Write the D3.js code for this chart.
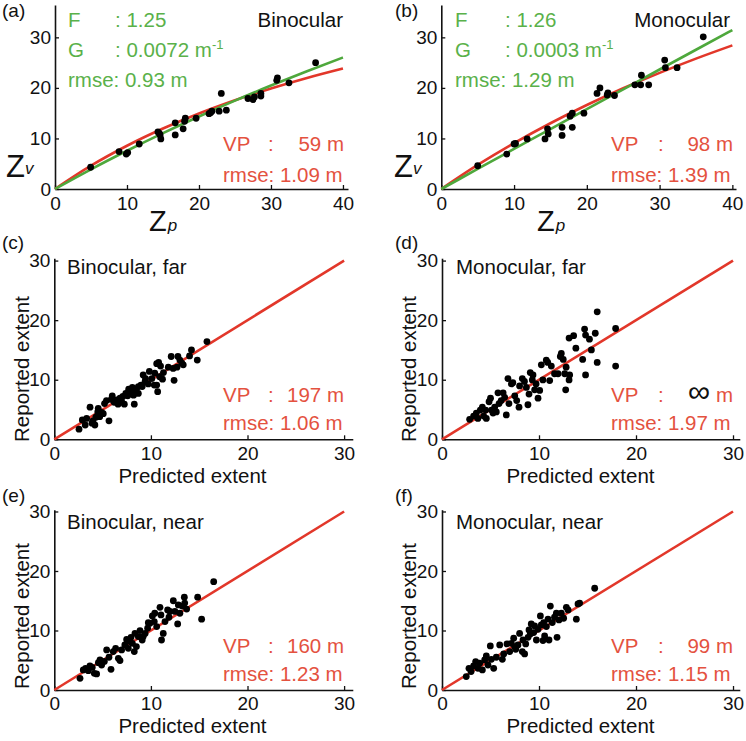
<!DOCTYPE html>
<html><head><meta charset="utf-8">
<script src="https://cdn.jsdelivr.net/npm/d3@7"></script>
<style>
body{margin:0;background:#fff}
svg{display:block}
text{font-family:"Liberation Sans",Arial,Helvetica,sans-serif}
</style>
</head><body>
<svg id="chart" width="746" height="741"></svg>
<script>
// ---------- DATA ----------
const zpGrid      = [0, 5, 10, 15, 20, 25, 30, 35, 40];
const redCurveA   = [0, 4.61, 8.55, 11.96, 14.94, 17.56, 19.89, 21.97, 23.84];
const greenCurveA = [0, 3.89, 7.56, 11.05, 14.35, 17.48, 20.46, 23.30, 26.01];
const redCurveB   = [0, 4.76, 9.07, 13.01, 16.61, 19.92, 22.97, 25.79, 28.41];
const greenCurveB = [0, 3.96, 7.92, 11.86, 15.80, 19.72, 23.64, 27.55, 31.45];
const identityLine = [0, 30];
const ticks40 = [0, 10, 20, 30, 40];
const ticks30 = [0, 10, 20, 30];

const pointsA = [[4.95,4.3],[8.9,7.4],[9.9,6.9],[10.1,7.2],[11.7,8.9],[14.3,11.3],[14.5,11.0],[14.6,10.7],[14.7,9.9],
  [16.7,10.7],[16.7,13.1],[17.8,11.9],[18.0,13.4],[18.1,14.0],[19.6,14.0],[21.4,14.9],[21.6,15.1],[21.8,15.4],
  [22.8,15.4],[23.1,18.9],[23.8,15.6],[26.8,17.9],[27.5,17.7],[27.7,18.2],[28.6,18.4],[28.6,18.9],[30.8,21.5],
  [30.9,22.0],[32.5,21.0],[36.2,25.0]];
const pointsB = [[5.0,4.6],[9.0,6.9],[10.0,8.9],[10.2,9.0],[11.8,9.9],[14.25,9.9],[14.6,11.9],[14.7,10.9],[16.6,12.2],
  [16.6,10.6],[17.7,14.4],[18.0,15.0],[18.0,12.2],[19.6,15.0],[21.4,18.9],[21.8,20.0],[22.8,18.6],[22.9,19.0],
  [23.8,18.5],[26.6,20.6],[27.4,20.6],[27.5,22.5],[28.5,20.6],[30.7,25.5],[30.8,24.0],[32.4,24.0],[36.0,30.1]];
const pointsC = [[2.56,1.7],[2.9,3.25],[3.2,2.4],[3.35,3.5],[3.7,5.4],[3.9,2.7],[4.0,3.1],[4.2,2.4],[4.3,3.7],[4.5,4.6],
  [4.55,5.2],[4.7,3.8],[4.9,4.5],[5.07,4.3],[5.2,6.0],[5.4,6.5],[5.66,3.1],[5.9,6.7],[6.0,7.3],[6.2,6.2],[6.45,6.6],
  [6.6,5.9],[6.8,6.9],[6.97,6.3],[7.1,7.2],[7.25,5.9],[7.4,7.7],[7.6,7.3],[7.7,8.4],[7.94,7.8],[8.08,8.7],[8.2,7.4],
  [8.28,5.9],[8.35,8.0],[8.5,8.4],[8.7,7.7],[8.7,8.85],[8.97,9.1],[9.1,8.85],[9.2,10.8],[9.4,9.7],[9.45,10.2],
  [9.73,9.3],[9.84,11.4],[10.1,10.2],[10.35,9.1],[10.4,11.1],[10.6,9.1],[10.6,12.7],[10.7,8.0],[10.8,12.9],
  [10.9,10.5],[11.0,12.3],[11.2,10.1],[11.3,11.2],[11.8,12.1],[12.1,13.9],[12.3,11.9],[12.4,9.9],[12.7,12.1],
  [12.8,13.9],[13.0,13.3],[13.2,12.8],[13.35,12.5],[14.0,14.0],[14.2,15.0],[14.8,13.3],[15.8,16.4]];
const pointsD = [[2.85,3.35],[3.26,3.9],[3.54,4.4],[3.7,3.5],[3.95,4.9],[4.16,5.4],[4.3,3.9],[4.5,4.9],[4.57,3.5],
  [4.85,6.3],[5.0,6.9],[5.1,4.9],[5.26,4.4],[5.43,5.4],[5.6,4.6],[5.77,7.8],[5.88,6.0],[6.1,6.5],[6.3,7.8],
  [6.46,7.05],[6.63,4.1],[6.8,10.2],[6.9,6.0],[7.15,9.3],[7.3,9.5],[7.5,7.3],[7.7,6.5],[7.94,5.4],[8.0,8.96],
  [8.28,10.2],[8.5,9.7],[8.7,8.7],[8.86,5.8],[8.97,7.6],[9.1,11.2],[9.31,9.97],[9.38,10.8],[9.55,8.3],[9.7,9.3],
  [9.9,6.9],[10.07,8.2],[10.24,12.5],[10.4,9.97],[10.75,13.3],[10.9,12.9],[11.1,9.85],[11.27,12.3],[11.6,11.0],
  [11.96,11.0],[12.2,13.9],[12.3,14.4],[12.5,13.4],[12.65,11.0],[12.75,8.3],[12.8,12.1],[13.1,9.97],[13.16,10.8],
  [13.1,17.0],[13.57,17.4],[13.8,15.3],[14.5,13.4],[14.8,10.8],[14.7,18.5],[14.8,17.5],[15.2,16.8],[15.4,15.0],
  [15.8,17.8],[16.0,12.9],[16.0,21.4],[17.9,18.6],[17.9,12.3]];
const pointsE = [[2.66,1.96],[3.0,3.37],[3.24,3.65],[3.52,3.25],[3.69,4.04],[3.93,3.8],[4.14,2.8],[4.38,2.7],[4.56,4.6],
  [4.73,5.05],[4.9,4.2],[5.18,4.8],[5.42,6.73],[5.66,5.5],[5.87,3.48],[6.1,6.45],[6.35,7.0],[6.63,5.33],[6.8,4.94],
  [6.97,6.73],[7.3,7.57],[7.49,8.5],[7.66,7.0],[7.83,8.13],[7.94,8.86],[8.08,7.85],[8.28,6.45],[8.35,9.5],[8.5,7.3],
  [8.7,8.97],[8.87,9.99],[9.1,8.4],[9.2,8.97],[9.4,9.5],[9.66,10.38],[9.73,11.3],[9.9,11.2],[10.15,12.45],
  [10.35,11.5],[10.4,12.9],[10.6,10.66],[10.94,13.9],[11.04,12.62],[11.1,8.4],[11.28,9.5],[11.46,11.5],
  [11.73,13.46],[11.87,12.23],[11.97,13.2],[12.32,15.0],[12.49,13.2],[12.77,11.1],[12.84,14.3],[13.0,12.9],
  [13.25,14.1],[13.46,15.6],[13.5,14.6],[13.7,13.6],[14.84,15.6],[15.25,11.9],[16.5,18.2]];
const pointsF = [[2.5,2.25],[2.78,3.65],[3.0,3.1],[3.26,4.04],[3.47,4.77],[3.71,3.65],[3.88,4.5],[4.16,3.37],[4.4,5.05],
  [4.57,5.72],[4.74,4.2],[4.98,7.4],[5.09,5.16],[5.33,3.65],[5.6,5.5],[5.95,7.57],[6.22,5.16],[6.36,6.06],[6.7,7.74],
  [6.98,6.45],[7.15,7.85],[7.39,8.7],[7.49,7.29],[7.6,6.84],[7.83,7.57],[8.0,9.5],[8.28,6.45],[8.35,8.4],[8.52,6.06],
  [8.63,7.74],[8.87,8.86],[8.97,10.1],[9.1,9.4],[9.2,11.1],[9.45,9.65],[9.55,10.77],[9.73,8.4],[9.9,10.2],
  [10.14,12.45],[10.24,10.94],[10.41,8.3],[10.48,11.33],[10.58,9.09],[10.76,10.66],[10.93,11.9],[11.03,8.4],
  [11.17,14.1],[11.37,11.33],[11.6,12.23],[11.79,12.9],[11.86,8.86],[12.06,11.78],[12.3,12.9],[12.54,12.06],
  [12.82,13.9],[13.0,13.46],[13.85,11.9],[14.02,14.47],[14.19,14.6],[15.74,17.1]];

const panelLetters = ["(a)","(b)","(c)","(d)","(e)","(f)"];
const panelTitles  = ["Binocular","Monocular","Binocular, far","Monocular, far","Binocular, near","Monocular, near"];
const vpValues     = ["59 m","98 m","197 m","∞","160 m","99 m"];
const rmseRed      = ["1.09","1.39","1.06","1.97","1.23","1.15"];
const fValues      = ["1.25","1.26"];
const gValues      = ["0.0072","0.0003"];
const rmseGreen    = ["0.93","1.29"];

// ---------- STYLE / LAYOUT ----------
const RED_LINE = "#e2372a", RED_TEXT = "#e4523f";
const GREEN_LINE = "#4ea83c", GREEN_TEXT = "#5ab14a";
const svg = d3.select("#chart");

const layout = [
  {x0:55,   x1:348,   xmax:40.7, y0:189,   y1:5,     ymax:36.4, xt:ticks40, left:true,  row:0},
  {x0:441.3,x1:736,   xmax:40.5, y0:189,   y1:5,     ymax:36.4, xt:ticks40, left:false, row:0},
  {x0:54.3, x1:352.8, xmax:30.9, y0:439.3, y1:258.2, ymax:30.4, xt:ticks30, left:true,  row:1},
  {x0:442,  x1:739.8, xmax:30.7, y0:439.3, y1:258.2, ymax:30.4, xt:ticks30, left:false, row:1},
  {x0:54.3, x1:352.8, xmax:30.9, y0:690,   y1:509.7, ymax:30.3, xt:ticks30, left:true,  row:2},
  {x0:442,  x1:739.8, xmax:30.7, y0:690,   y1:509.7, ymax:30.3, xt:ticks30, left:false, row:2}
];
const allPoints = [pointsA, pointsB, pointsC, pointsD, pointsE, pointsF];

function txt(g, x, y, s, o={}) {
  return g.append("text").attr("x", x).attr("y", y)
    .attr("font-size", o.size || 20.5)
    .attr("fill", o.fill || "#111")
    .attr("text-anchor", o.anchor || "start")
    .text(s);
}

layout.forEach((L, i) => {
  const g = svg.append("g");
  const x = d3.scaleLinear().domain([0, L.xmax]).range([L.x0, L.x1]);
  const y = d3.scaleLinear().domain([0, L.ymax]).range([L.y0, L.y1]);

  // axes
  const ax = g.append("g").attr("transform", `translate(0,${L.y0})`)
    .call(d3.axisBottom(x).tickValues(L.xt).tickSize(-4).tickSizeOuter(0)
      .tickPadding(L.row === 0 ? 8 : 7).tickFormat(d3.format("d")));
  const ay = g.append("g").attr("transform", `translate(${L.x0},0)`)
    .call(d3.axisLeft(y).tickValues(ticks30).tickSize(-4).tickSizeOuter(0).tickPadding(4).tickFormat(d3.format("d")));
  [ax, ay].forEach(a => {
    a.select(".domain").attr("stroke", "#111").attr("stroke-width", 1.6);
    a.selectAll(".tick line").attr("stroke", "#111").attr("stroke-width", 1.3);
    a.selectAll(".tick text").attr("font-size", 19).attr("fill", "#111")
      .attr("font-family", '"Liberation Sans",Arial,sans-serif');
  });

  // fitted lines
  const line = d3.line().x(d => x(d[0])).y(d => y(d[1])).curve(d3.curveMonotoneX);
  if (i < 2) {
    const red = i === 0 ? redCurveA : redCurveB;
    const green = i === 0 ? greenCurveA : greenCurveB;
    g.append("path").datum(zpGrid.map((z, k) => [z, red[k]]))
      .attr("d", line).attr("fill", "none").attr("stroke", RED_LINE).attr("stroke-width", 2.6);
    g.append("path").datum(zpGrid.map((z, k) => [z, green[k]]))
      .attr("d", line).attr("fill", "none").attr("stroke", GREEN_LINE).attr("stroke-width", 2.6);
  } else {
    g.append("path").datum(identityLine.map(v => [v, v]))
      .attr("d", line).attr("fill", "none").attr("stroke", RED_LINE).attr("stroke-width", 2.6);
  }

  // points
  g.selectAll("circle.pt").data(allPoints[i]).enter().append("circle")
    .attr("cx", d => x(d[0])).attr("cy", d => y(d[1])).attr("r", 3.4).attr("fill", "#000");

  // panel letter
  const lx = L.left ? 2 : 395;
  const ly = [17, 249, 502][L.row];
  txt(svg, lx, ly, panelLetters[i], {size: 19});

  // red annotation
  const vpX = L.left ? 223 : 611;
  const colX = L.left ? 268 : 658;
  const endX = L.left ? 344 : 733;
  const vpY = L.row === 0 ? 151 : L.y0 - 37.5;
  const rmY = L.row === 0 ? 182 : L.y0 - 9;
  txt(g, vpX, vpY, "VP", {fill: RED_TEXT});
  txt(g, colX, vpY, ":", {fill: RED_TEXT});
  if (vpValues[i] === "∞") {
    txt(g, 688, vpY, "∞", {size: 31, fill: "#111"});
    txt(g, endX, vpY, "m", {fill: RED_TEXT, anchor: "end"});
  } else {
    txt(g, endX, vpY, vpValues[i], {fill: RED_TEXT, anchor: "end"});
  }
  txt(g, vpX, rmY, "rmse: " + rmseRed[i] + " m", {fill: RED_TEXT});

  if (i < 2) {
    // green annotation & title
    const fx = i === 0 ? 68 : 455, cx = i === 0 ? 115 : 505;
    txt(g, fx, 27, "F", {fill: GREEN_TEXT});
    txt(g, cx, 27, ": " + fValues[i], {fill: GREEN_TEXT});
    txt(g, fx, 57, "G", {fill: GREEN_TEXT});
    const gt = txt(g, cx, 57, ": " + gValues[i] + " m", {fill: GREEN_TEXT});
    gt.append("tspan").attr("dy", -8).attr("font-size", 13).text("-1");
    txt(g, fx, 87, "rmse: " + rmseGreen[i] + " m", {fill: GREEN_TEXT});
    txt(g, i === 0 ? 343 : 730, 27, panelTitles[i], {anchor: "end"});

    // Z_v and Z_p labels
    const zvx = i === 0 ? 6 : 394;
    const zv = txt(g, zvx, 177, "Z", {size: 31});
    zv.append("tspan").attr("font-size", 17).attr("font-style", "italic").attr("dy", -3).text("v");
    const zpx = i === 0 ? 149 : 537;
    const zp = txt(g, zpx, 231, "Z", {size: 29});
    zp.append("tspan").attr("font-size", 17).attr("font-style", "italic").attr("dy", 0).attr("dx", 1).text("p");
  } else {
    txt(g, L.left ? 67 : 456, L.row === 1 ? 274 : 529, panelTitles[i]);
    const cxl = L.left ? 192.5 : 580.5;
    txt(g, cxl, L.row === 1 ? 483 : 733, "Predicted extent", {anchor: "middle", size: 20.5});
    const yc = L.row === 1 ? 369 : 616;
    const bx = L.left ? 28.5 : 416;
    g.append("text").attr("transform", `translate(${bx},${yc}) rotate(-90)`)
      .attr("text-anchor", "middle").attr("font-size", 20.5).attr("fill", "#111")
      .text("Reported extent");
  }
});
</script>
</body></html>
